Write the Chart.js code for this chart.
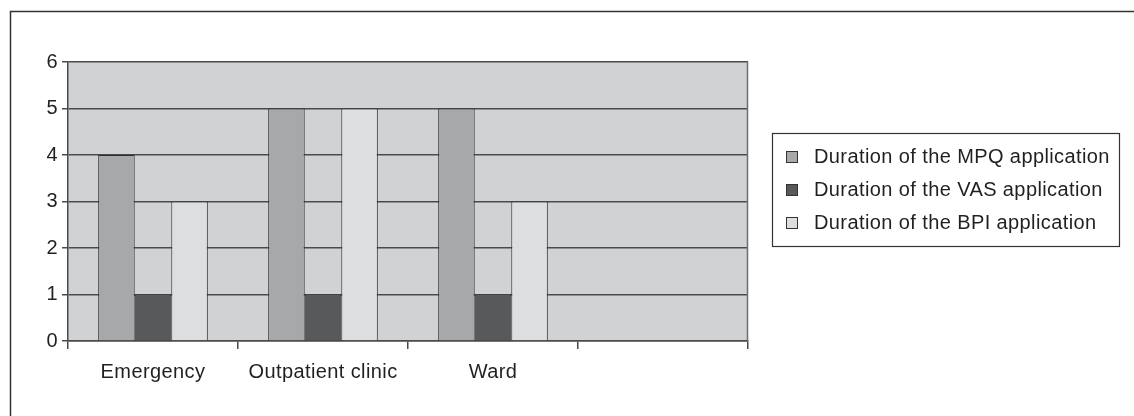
<!DOCTYPE html>
<html>
<head>
<meta charset="utf-8">
<script src="https://cdn.jsdelivr.net/npm/chart.js@4/dist/chart.umd.min.js"></script>
<style>
  html, body { margin: 0; padding: 0; background: #fff; }
  #wrap { width: 1134px; height: 416px; position: relative; }
</style>
</head>
<body>
<div id="wrap"><canvas id="chart" width="1134" height="416"></canvas></div>
<script>
// values
const categories = ["Emergency", "Outpatient clinic", "Ward", ""];
const mpqValues = [4, 5, 5, null];
const vasValues = [1, 1, 1, null];
const bpiValues = [3, 5, 3, null];
const seriesNames = [
    "Duration of the MPQ application",
    "Duration of the VAS application",
    "Duration of the BPI application"
];
const yTicks = [0, 1, 2, 3, 4, 5, 6];

const FONT = "'Liberation Sans', Arial, sans-serif";
const INK = "#231f20";
const GRID = "#4a4a4a";

// grey plot background, outer frame and plot right edge
const backdrop = {
    id: "backdrop",
    beforeDraw(chart) {
        const ctx = chart.ctx;
        const a = chart.chartArea;
        // the scanned text is a bit wider than plain Arial
        ctx.letterSpacing = "0.4px";
        ctx.save();
        ctx.fillStyle = "#d1d2d4";
        ctx.fillRect(a.left, a.top, a.right - a.left, a.bottom - a.top);
        ctx.strokeStyle = "#333";
        ctx.lineWidth = 1.5;
        ctx.beginPath();
        ctx.moveTo(10.5, 416);
        ctx.lineTo(10.5, 11.5);
        ctx.lineTo(1134, 11.5);
        ctx.stroke();
        ctx.restore();
    },
    afterDatasetsDraw(chart) {
        const ctx = chart.ctx;
        const a = chart.chartArea;
        ctx.save();
        ctx.strokeStyle = "#6d6e70";
        ctx.lineWidth = 1.5;
        ctx.beginPath();
        ctx.moveTo(a.right - 0.5, a.top);
        ctx.lineTo(a.right - 0.5, a.bottom);
        ctx.stroke();
        ctx.restore();
    }
};

// boxed legend to the right of the plot
const boxLegend = {
    id: "boxLegend",
    afterDraw(chart) {
        const ctx = chart.ctx;
        const box = { x: 772.5, y: 133.5, w: 347, h: 113 };
        ctx.save();
        ctx.strokeStyle = "#333";
        ctx.lineWidth = 1.2;
        ctx.strokeRect(box.x, box.y, box.w, box.h);
        ctx.font = "20px " + FONT;
        ctx.textBaseline = "middle";
        chart.data.datasets.forEach((ds, i) => {
            const cy = 156 + i * 33;
            ctx.fillStyle = ds.backgroundColor;
            ctx.fillRect(786, cy - 5, 11, 11);
            ctx.strokeStyle = "#333";
            ctx.lineWidth = 1;
            ctx.strokeRect(786.5, cy - 4.5, 11, 11);
            ctx.fillStyle = INK;
            ctx.fillText(ds.label, 814, cy + 1);
        });
        ctx.restore();
        ctx.letterSpacing = "0px";
    }
};

new Chart(document.getElementById("chart"), {
    type: "bar",
    data: {
        labels: categories,
        datasets: [
            { label: seriesNames[0], data: mpqValues, backgroundColor: "#a7a8aa" },
            { label: seriesNames[1], data: vasValues, backgroundColor: "#58595b" },
            { label: seriesNames[2], data: bpiValues, backgroundColor: "#dddee0" }
        ].map(d => Object.assign(d, {
            borderColor: "#2e2e2e",
            borderWidth: 1,
            categoryPercentage: 0.645,
            barPercentage: 1.0
        }))
    },
    options: {
        responsive: false,
        animation: false,
        layout: { padding: { left: 0, top: 62, right: 386, bottom: 0 } },
        plugins: {
            legend: { display: false },
            tooltip: { enabled: false }
        },
        scales: {
            x: {
                offset: true,
                grid: {
                    offset: true,
                    drawOnChartArea: false,
                    drawTicks: true,
                    tickLength: 8,
                    color: GRID,
                    lineWidth: 1.5
                },
                border: { color: GRID, width: 1.5 },
                ticks: {
                    color: INK,
                    font: { family: FONT, size: 20 },
                    padding: 11,
                    maxRotation: 0
                },
                afterFit(scale) { scale.height = 75; }
            },
            y: {
                min: 0,
                max: 6,
                afterBuildTicks(scale) { scale.ticks = yTicks.map(v => ({ value: v })); },
                grid: {
                    color: GRID,
                    lineWidth: 1.5,
                    drawTicks: true,
                    tickLength: 6
                },
                border: { color: GRID, width: 1.5 },
                ticks: {
                    color: INK,
                    font: { family: FONT, size: 20 },
                    padding: 4
                },
                afterFit(scale) { scale.width = 68; }
            }
        }
    },
    plugins: [backdrop, boxLegend]
});
</script>
</body>
</html>
